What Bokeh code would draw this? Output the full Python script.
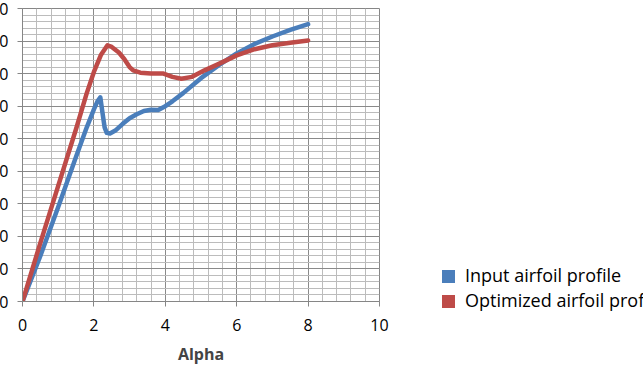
import numpy as np
from bokeh.plotting import figure
from bokeh.layouts import row
from bokeh.models import Range1d, FixedTicker, Div
from bokeh.embed import file_html
from bokeh.resources import INLINE

# ---- data ----
input_alpha = [0, 0.5, 1.0, 1.5, 1.8, 2.0, 2.1, 2.18, 2.24, 2.3, 2.36, 2.45, 2.6, 2.8, 3.0, 3.2,
               3.4, 3.6, 3.8, 4.0, 4.2, 4.5, 5.0, 5.5, 6.0, 6.5, 7.0, 7.5, 8.0]
input_value = [0, 14, 29, 44.5, 53.5, 59, 61.5, 62.7, 58, 53.5, 51.8, 51.6, 52.5, 54.5, 56.3, 57.5,
               58.5, 58.9, 58.8, 60.0, 61.5, 64.0, 68.6, 72.6, 76.2, 79.1, 81.4, 83.4, 85.2]

opt_alpha = [0, 0.5, 1.0, 1.5, 1.8, 2.0, 2.2, 2.38, 2.5, 2.7, 2.85, 3.0, 3.1, 3.3, 3.6, 3.95,
             4.2, 4.45, 4.75, 5.1, 5.5, 6.0, 6.5, 7.0, 7.5, 8.0]
opt_value = [0, 18, 35.5, 53, 64, 70.5, 75.8, 78.7, 78.2, 76.5, 74.5, 72, 71, 70.3, 70, 70,
             69, 68.4, 69, 71, 73, 75.6, 77.5, 78.7, 79.5, 80.2]

series_names = ["Input airfoil profile", "Optimized airfoil profile"]
series_colors = ["#4A7EBB", "#BE4B48"]

x_ticks = [0, 2, 4, 6, 8, 10]
y_ticks = [0, 10, 20, 30, 40, 50, 60, 70, 80, 90]
x_minor = [round(v, 1) for v in np.arange(0, 10.01, 0.4)]
y_minor = [round(v, 1) for v in np.arange(0, 90.01, 2)]

FONT = "Open Sans"

p = figure(width=417, height=367, x_range=Range1d(0, 10), y_range=Range1d(0, 90),
           output_backend="svg", toolbar_location=None,
           min_border_left=40, min_border_top=8, min_border_bottom=65, min_border_right=20)

p.background_fill_color = "white"
p.border_fill_color = "white"
p.outline_line_color = "#868686"

# grids
p.xgrid.ticker = FixedTicker(ticks=x_ticks, minor_ticks=x_minor)
p.ygrid.ticker = FixedTicker(ticks=y_ticks, minor_ticks=y_minor)
for g in (p.xgrid, p.ygrid):
    g.grid_line_color = "#8a8a8a"
    g.grid_line_width = 1
    g.minor_grid_line_color = "#bcbcbc"
    g.minor_grid_line_width = 1

# axes
p.xaxis.ticker = FixedTicker(ticks=x_ticks)
p.yaxis.ticker = FixedTicker(ticks=y_ticks)
for ax in (p.xaxis, p.yaxis):
    ax.axis_line_color = "#868686"
    ax.major_tick_line_color = "#868686"
    ax.major_tick_in = 0
    ax.major_tick_out = 5
    ax.minor_tick_line_color = None
    ax.major_label_text_font = FONT
    ax.major_label_text_font_size = "16px"
    ax.major_label_text_color = "#000000"
p.xaxis.major_label_standoff = 12
p.yaxis.major_label_standoff = 9
p.xaxis.axis_label = "Alpha"
p.xaxis.axis_label_text_font = FONT
p.xaxis.axis_label_text_font_style = "bold"
p.xaxis.axis_label_text_font_size = "16px"
p.xaxis.axis_label_standoff = 9

# series
p.line(input_alpha, input_value, line_width=4.5, color=series_colors[0], line_join="round", line_cap="round")
p.line(opt_alpha, opt_value, line_width=4.5, color=series_colors[1], line_join="round", line_cap="round")

# legend (outside the plot, to its right; cut by the window edge like the reference)
rows_html = "".join(
    f'<div style="height:25px;line-height:25px;white-space:nowrap;">'
    f'<span style="display:inline-block;width:13px;height:13px;background:{c};'
    f'margin-right:10px;vertical-align:-1px;"></span>{n}</div>'
    for n, c in zip(series_names, series_colors)
)
legend_div = Div(
    text=f'<div style="padding-left:38px;padding-top:258px;font-family:\'{FONT}\';'
         f'font-size:18px;color:#000;">{rows_html}</div>',
    width=244, height=367,
    styles={"overflow": "hidden"},
)

layout = row(p, legend_div, spacing=0)
layout.styles = {"margin-left": "-18px"}

open("out.html", "w").write(file_html(layout, INLINE))
